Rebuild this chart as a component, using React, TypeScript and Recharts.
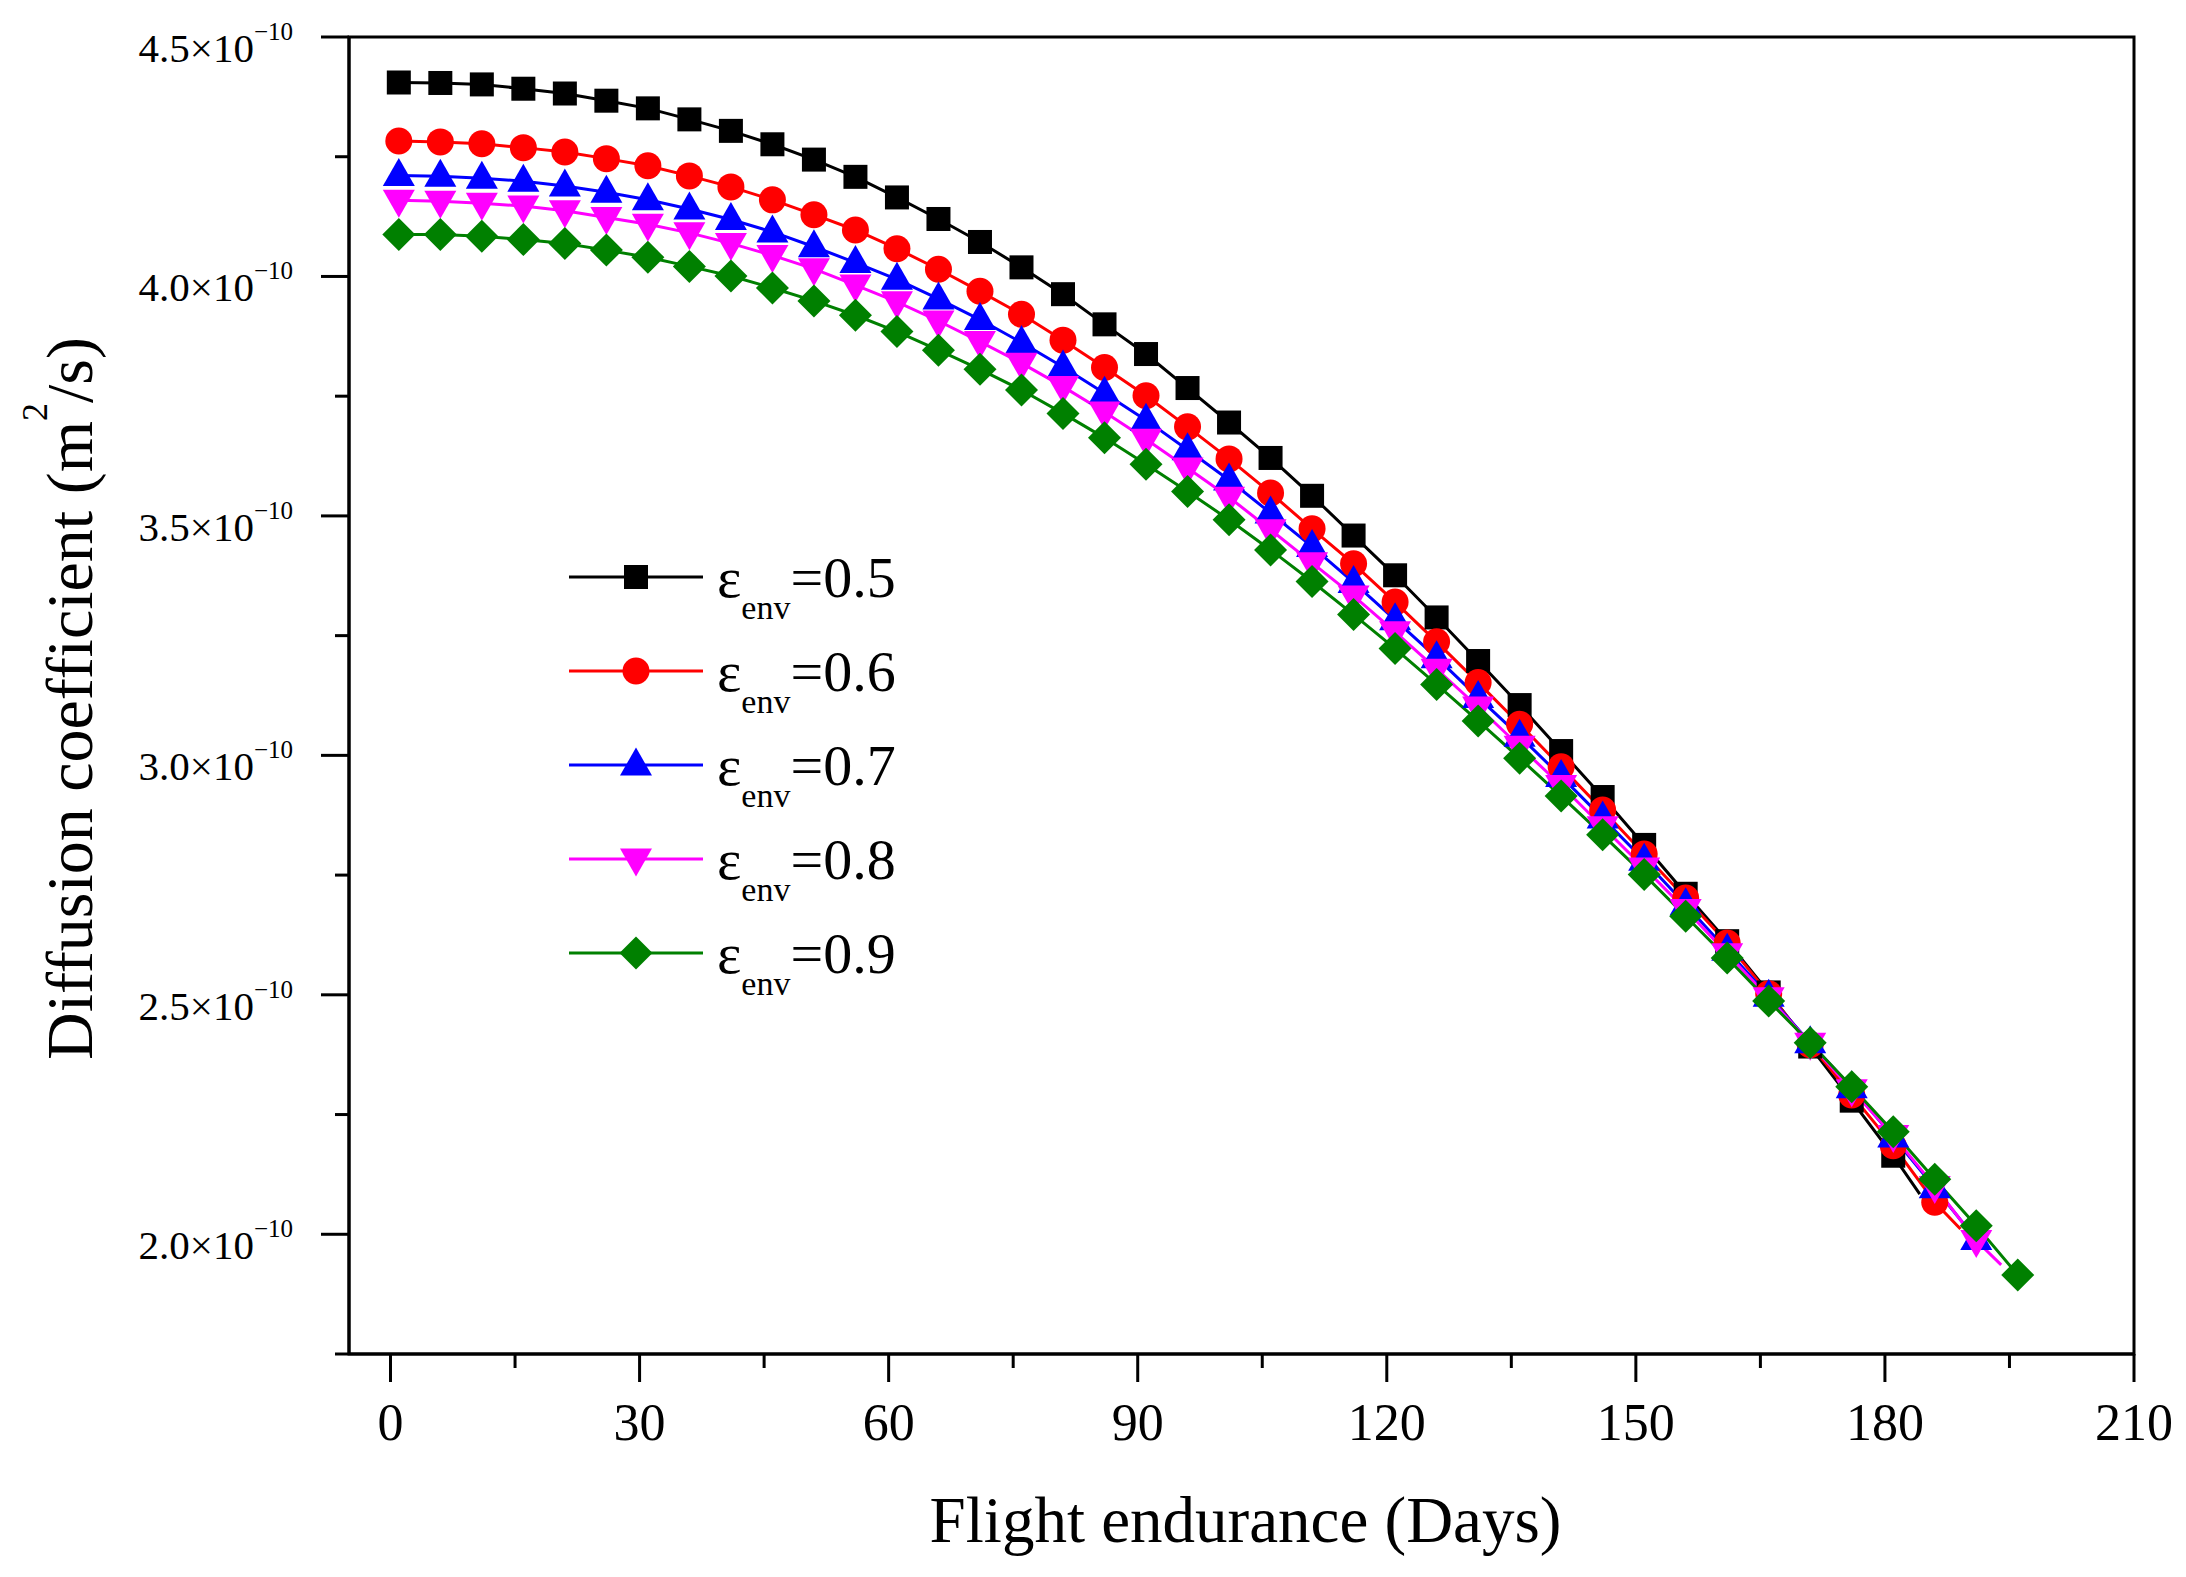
import { LineChart, Line, XAxis, YAxis, ReferenceArea, Legend } from 'recharts';

const FONT = '"Liberation Serif", "Times New Roman", Times, serif';

// flight endurance (days) of each computed point
const days = [
	1, 6, 11, 16, 21, 26, 31, 36, 41, 46, 51, 56, 61, 66, 71, 76, 81, 86, 91, 96,
	101, 106, 111, 116, 121, 126, 131, 136, 141, 146, 151, 156, 161, 166, 171, 176, 181, 186, 191, 196,
];

// diffusion coefficient, in units of 1e-10 m^2/s
const eps05 = [
	4.405, 4.404, 4.401, 4.392, 4.382, 4.367, 4.351, 4.328, 4.304, 4.276, 4.244, 4.208, 4.165, 4.12, 4.072,
	4.019, 3.963, 3.9, 3.838, 3.767, 3.695, 3.621, 3.542, 3.459, 3.376, 3.288, 3.197, 3.105, 3.009, 2.913,
	2.813, 2.711, 2.612, 2.505, 2.392, 2.279, 2.164,
];
const eps06 = [
	4.283, 4.281, 4.277, 4.269, 4.26, 4.246, 4.231, 4.21, 4.187, 4.16, 4.129, 4.097, 4.058, 4.015, 3.969,
	3.921, 3.867, 3.81, 3.751, 3.686, 3.619, 3.548, 3.473, 3.4, 3.32, 3.237, 3.152, 3.065, 2.976, 2.886,
	2.794, 2.702, 2.608, 2.502, 2.396, 2.291, 2.185, 2.067,
];
const eps07 = [
	4.211, 4.209, 4.205, 4.199, 4.189, 4.176, 4.16, 4.141, 4.119, 4.093, 4.062, 4.029, 3.994, 3.953, 3.91,
	3.862, 3.811, 3.756, 3.7, 3.638, 3.575, 3.506, 3.436, 3.361, 3.283, 3.204, 3.121, 3.04, 2.956, 2.869,
	2.781, 2.688, 2.593, 2.497, 2.4, 2.306, 2.203, 2.097, 1.989,
];
const eps08 = [
	4.159, 4.157, 4.153, 4.147, 4.137, 4.123, 4.109, 4.091, 4.069, 4.044, 4.016, 3.982, 3.947, 3.907, 3.864,
	3.819, 3.77, 3.717, 3.66, 3.6, 3.539, 3.471, 3.402, 3.333, 3.258, 3.18, 3.101, 3.019, 2.937, 2.851,
	2.765, 2.678, 2.586, 2.494, 2.399, 2.302, 2.206, 2.1, 1.987,
];
const eps09 = [
	4.0875, 4.0875, 4.084, 4.077, 4.069, 4.055, 4.04, 4.021, 4.001, 3.976, 3.949, 3.919, 3.885, 3.846, 3.806,
	3.763, 3.714, 3.663, 3.608, 3.551, 3.492, 3.429, 3.363, 3.294, 3.223, 3.148, 3.072, 2.994, 2.915, 2.834,
	2.751, 2.664, 2.577, 2.487, 2.4, 2.308, 2.214, 2.115, 2.018, 1.915,
];

// where a curve carries on past its last marker: [day, value]
const eps05End = [184.2, 2.084];
const eps06End = [189.1, 2.011];
const eps08End = [194.0, 1.936];

const xTicks = [0, 15, 30, 45, 60, 75, 90, 105, 120, 135, 150, 165, 180, 195, 210];
const yTicks = [1.75, 2, 2.25, 2.5, 2.75, 3, 3.25, 3.5, 3.75, 4, 4.25, 4.5];

function toPoints(vals: number[], end?: number[]) {
	const pts: any[] = vals.map((v, i) => ({ day: days[i], v }));
	if (end) pts.push({ day: end[0], v: end[1], bare: true });
	return pts;
}

const series = [
	{ label: '0.5', color: '#000000', shape: 'square', data: toPoints(eps05, eps05End) },
	{ label: '0.6', color: '#FF0000', shape: 'circle', data: toPoints(eps06, eps06End) },
	{ label: '0.7', color: '#0000FF', shape: 'up', data: toPoints(eps07) },
	{ label: '0.8', color: '#FF00FF', shape: 'down', data: toPoints(eps08, eps08End) },
	{ label: '0.9', color: '#008000', shape: 'diamond', data: toPoints(eps09) },
];

function Marker({ shape, color, cx, cy }: { shape: string; color: string; cx: number; cy: number }) {
	switch (shape) {
		case 'square':
			return <rect x={cx - 12} y={cy - 12} width={24} height={24} fill={color} />;
		case 'circle':
			return <circle cx={cx} cy={cy} r={13.5} fill={color} />;
		case 'up':
			return <polygon points={`${cx},${cy - 17.5} ${cx + 16},${cy + 10.5} ${cx - 16},${cy + 10.5}`} fill={color} />;
		case 'down':
			return <polygon points={`${cx - 16},${cy - 10.5} ${cx + 16},${cy - 10.5} ${cx},${cy + 17.5}`} fill={color} />;
		default:
			return <polygon points={`${cx},${cy - 16.5} ${cx + 16.5},${cy} ${cx},${cy + 16.5} ${cx - 16.5},${cy}`} fill={color} />;
	}
}

function XTick({ x, y, payload }: any) {
	const major = payload.value % 30 === 0;
	return (
		<g>
			<line x1={x} x2={x} y1={y} y2={y + (major ? 28 : 14)} stroke="#000" strokeWidth={3} />
			{major && (
				<text x={x} y={y + 86} textAnchor="middle" fontFamily={FONT} fontSize={52} fill="#000">
					{payload.value}
				</text>
			)}
		</g>
	);
}

function YTick({ x, y, payload }: any) {
	const v = payload.value;
	const major = Math.abs(v * 2 - Math.round(v * 2)) < 1e-6;
	return (
		<g>
			<line x1={x - (major ? 28 : 14)} x2={x} y1={y} y2={y} stroke="#000" strokeWidth={3} />
			{major && (
				<text x={x - 56} y={y + 25} textAnchor="end" fontFamily={FONT} fontSize={41} fill="#000">
					{v.toFixed(1)}×10
					<tspan fontSize={25} dy={-22}>
						−10
					</tspan>
				</text>
			)}
		</g>
	);
}

function XTitle({ viewBox }: any) {
	const vb = viewBox ?? { x: 349, y: 1354, width: 1785, height: 223 };
	return (
		<text x={vb.x + vb.width / 2 + 4} y={vb.y + 188} textAnchor="middle" fontFamily={FONT} fontSize={65} fill="#000">
			Flight endurance (Days)
		</text>
	);
}

function YTitle({ viewBox }: any) {
	const vb = viewBox ?? { x: 0, y: 37, width: 349, height: 1317 };
	const x = vb.x + 92;
	const y = vb.y + vb.height / 2 + 3;
	return (
		<text x={x} y={y} transform={`rotate(-90, ${x}, ${y})`} textAnchor="middle" fontFamily={FONT} fontSize={66} fill="#000">
			Diffusion coefficient (m
			<tspan fontSize={36} dy={-45}>
				2
			</tspan>
			<tspan dy={45}>/s)</tspan>
		</text>
	);
}

function LegendBox() {
	return (
		<svg width={380} height={480} style={{ overflow: 'visible', display: 'block' }}>
			{series.map((s, i) => {
				const y = 37 + i * 94;
				return (
					<g key={s.label}>
						<line x1={9} x2={143} y1={y} y2={y} stroke={s.color} strokeWidth={3} />
						<Marker shape={s.shape} color={s.color} cx={76} cy={y} />
						<text x={157} y={y + 20} fontFamily={FONT} fontSize={58} fill="#000">
							ε
							<tspan fontSize={34} dy={22}>
								env
							</tspan>
							<tspan dy={-22}>={s.label}</tspan>
						</text>
					</g>
				);
			})}
		</svg>
	);
}

export default function App() {
	return (
		<div style={{ width: 2186, height: 1577, background: '#fff' }}>
			<style>{'body{margin:0;background:#fff}'}</style>
			<LineChart width={2186} height={1577} margin={{ top: 37, right: 52, left: 0, bottom: 0 }}>
				<XAxis
					type="number"
					dataKey="day"
					domain={[-5, 210]}
					ticks={xTicks}
					interval={0}
					allowDataOverflow
					height={223}
					tickSize={0}
					tickMargin={0}
					tickLine={false}
					tick={<XTick />}
					axisLine={{ stroke: '#000', strokeWidth: 3 }}
					label={<XTitle />}
				/>
				<YAxis
					type="number"
					domain={[1.75, 4.5]}
					ticks={yTicks}
					interval={0}
					allowDataOverflow
					width={349}
					tickSize={0}
					tickMargin={0}
					tickLine={false}
					tick={<YTick />}
					axisLine={{ stroke: '#000', strokeWidth: 3 }}
					label={<YTitle />}
				/>
				<ReferenceArea x1={-5} x2={210} y1={1.75} y2={4.5} fill="none" stroke="#000" strokeWidth={3} />
				{series.map((s) => (
					<Line
						key={s.label}
						data={s.data}
						dataKey="v"
						type="linear"
						stroke={s.color}
						strokeWidth={3}
						isAnimationActive={false}
						activeDot={false}
						dot={(p: any) =>
							p.payload?.bare ? (
								<g key={`d-${s.label}-${p.index}`} />
							) : (
								<Marker key={`d-${s.label}-${p.index}`} shape={s.shape} color={s.color} cx={p.cx} cy={p.cy} />
							)
						}
					/>
				))}
				<Legend
					layout="vertical"
					align="center"
					verticalAlign="middle"
					content={() => <LegendBox />}
					wrapperStyle={{ left: 560, top: 540, width: 380, height: 480 }}
				/>
			</LineChart>
		</div>
	);
}
